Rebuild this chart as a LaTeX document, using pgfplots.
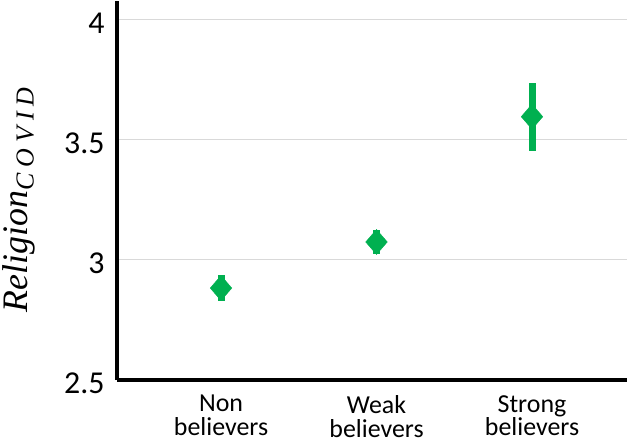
\documentclass[border=0pt]{standalone}
\usepackage{pgfplots}
\pgfplotsset{compat=1.18}
\usepackage{fontspec}
\setmainfont{Carlito}
\newfontfamily\serifit{Liberation Serif}[ItalicFont=* Italic]
\usetikzlibrary{calc}
\definecolor{grn}{HTML}{00B050}
\definecolor{gridc}{HTML}{D9D9D9}
\begin{document}
\begin{tikzpicture}
\begin{axis}[
  width=510bp, height=379bp, scale only axis,
  xmin=-0.669, xmax=2.611, ymin=2.5, ymax=4.079,
  axis lines*=left,
  axis line style={line width=4bp, black},
  xtick={0,1,2},
  xticklabels={{Non\\believers},{Weak\\believers},{Strong\\believers}},
  xticklabel style={align=center, font=\fontsize{26}{24}\selectfont, inner sep=0pt, yshift=-15bp},
  ytick={2.5,3,3.5,4},
  yticklabels={2.5,3,3.5,4},
  yticklabel style={font=\fontsize{32}{32}\selectfont, xshift=-9bp, yshift=-3bp},
  major tick length=0pt,
  ymajorgrids,
  grid style={color=gridc, line width=1bp},
  ylabel={{\fontsize{36}{36}\selectfont\serifit\itshape Religion}\raisebox{-6bp}{\fontsize{26}{26}\selectfont\serifit\itshape C\kern6bp O\kern6bp V\kern6bp I\kern6bp D}},
  ylabel style={at={(axis description cs:-0.192,0.475)}, anchor=center, rotate=0, inner sep=0pt},
  clip=false,
]
\addplot[only marks, color=grn, mark=diamond*, mark size=12.5bp, mark options={xscale=1.15, fill=grn, draw=grn},
  error bars/.cd, y dir=both, y explicit, error mark=none,
  error bar style={line width=7bp, color=grn}]
  coordinates {
    (0,2.883) +- (0,0.055)
    (1,3.075) +- (0,0.052)
    (2,3.597) +- (0,0.142)
  };
\end{axis}
\pgfresetboundingbox
\path[use as bounding box] ($(current axis.south west)+(-117bp,-65bp)$) rectangle ($(current axis.north east)+(2bp,1bp)$);
\end{tikzpicture}
\end{document}
